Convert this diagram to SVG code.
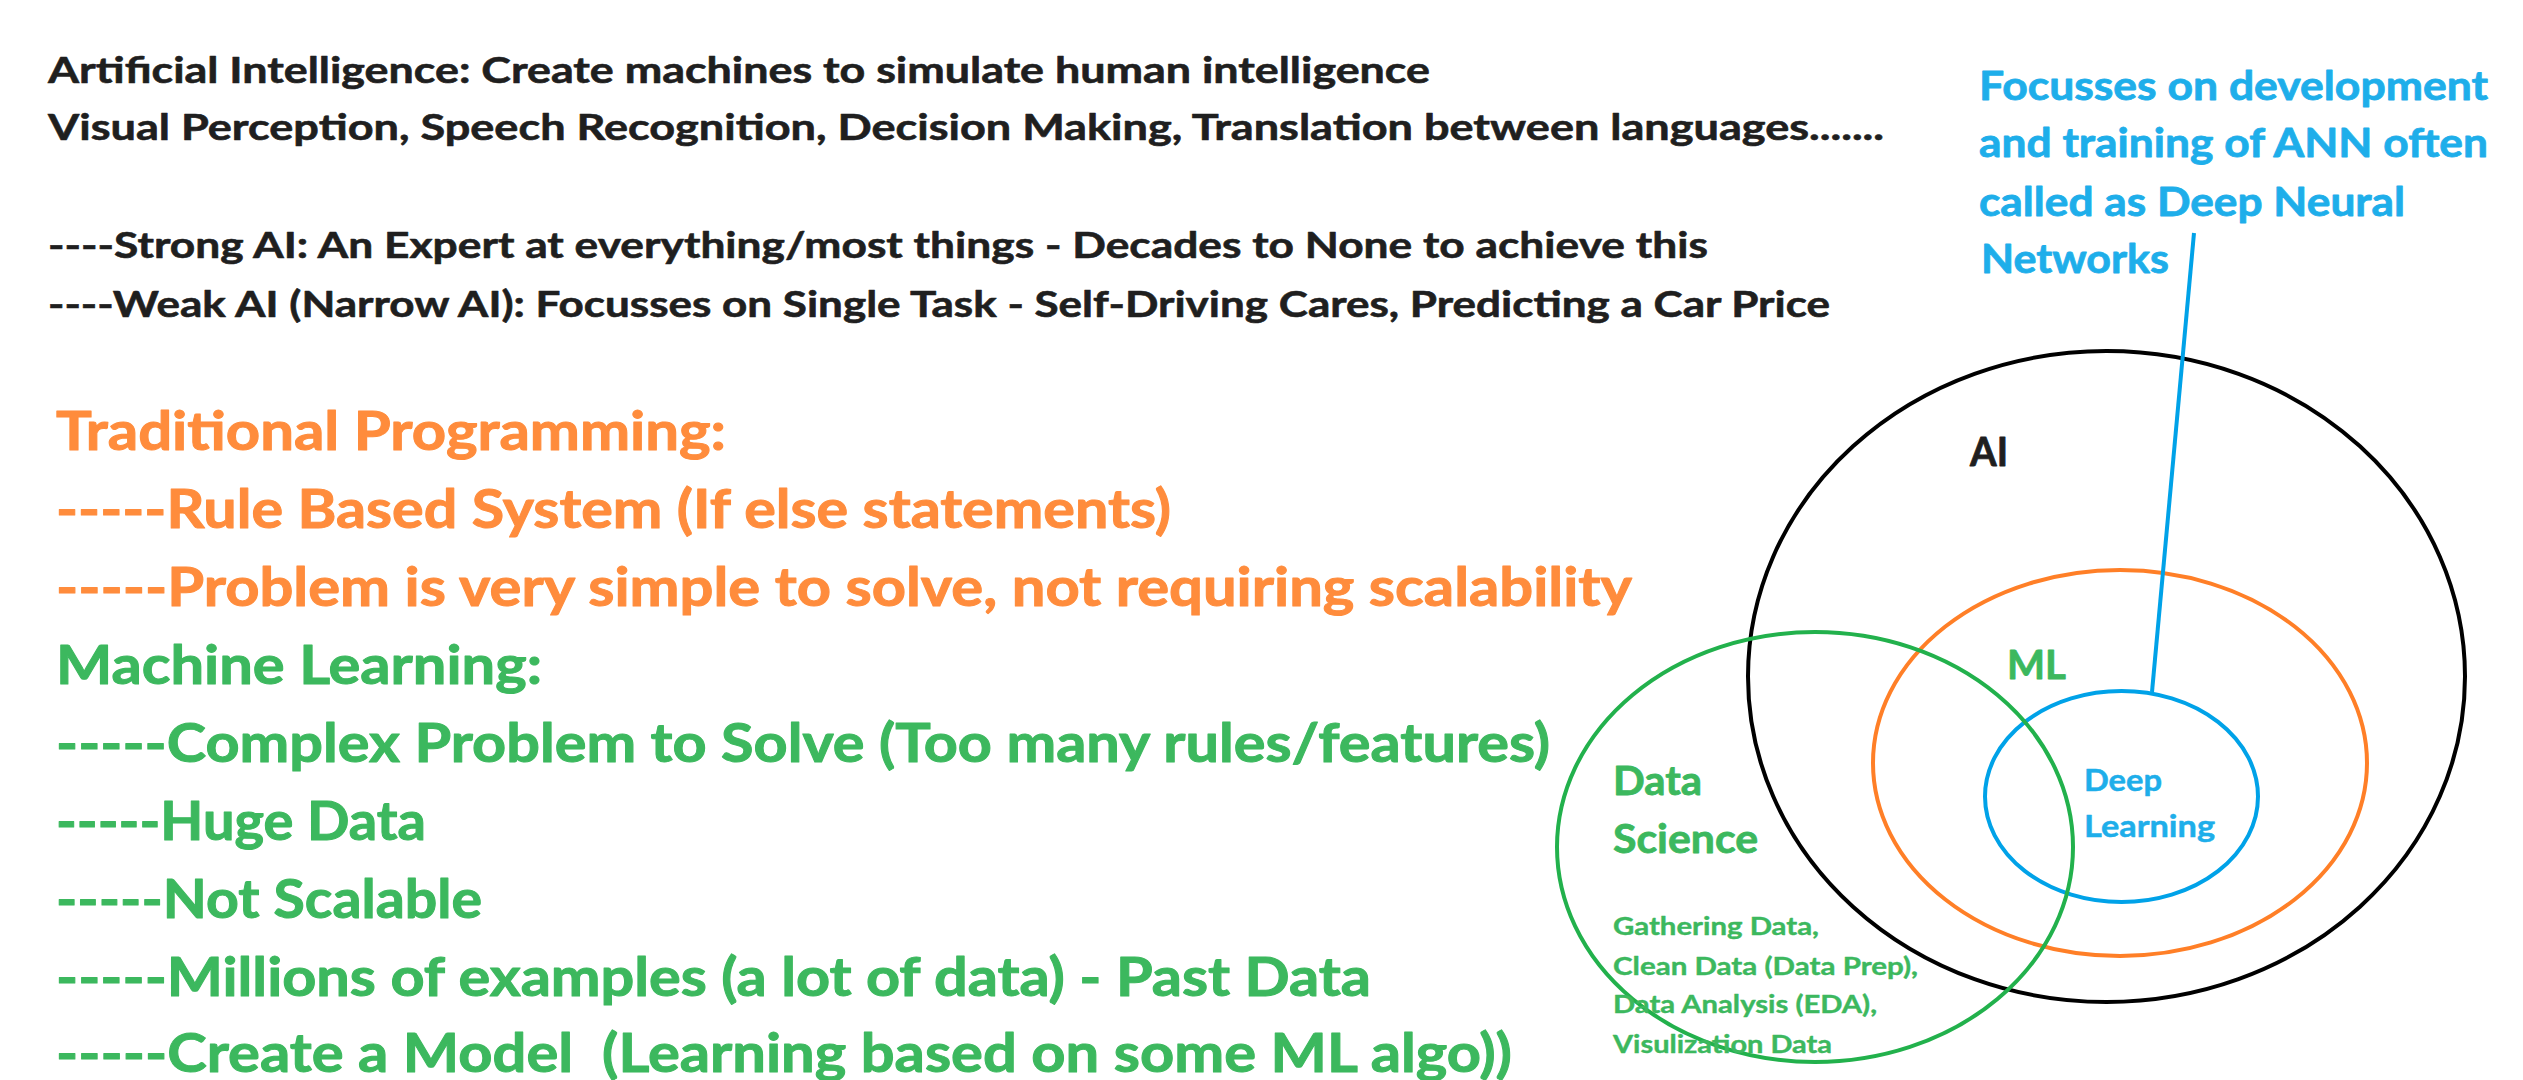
<svg xmlns="http://www.w3.org/2000/svg" width="2523" height="1080" viewBox="0 0 2523 1080">
<style>
text{font-family:Lato,"Open Sans","Liberation Sans",sans-serif;font-weight:700;stroke-linejoin:round}
.k{fill:#1f1f1f;stroke:#1f1f1f;stroke-width:0.6px;font-size:36px}
.o{fill:#FF8C3C;stroke:#FF8C3C;stroke-width:1px;font-size:54px}
.g{fill:#3CB85E;stroke:#3CB85E;stroke-width:1px;font-size:54px}
.b{fill:#1EAEEA;stroke:#1EAEEA;stroke-width:0.8px;font-size:40px}
.lbl{font-size:40px;stroke-width:0.8px}
.sm{font-size:24px;fill:#3CB85E;stroke:#3CB85E;stroke-width:0.4px}
.dl{font-size:31px;fill:#1EAEEA;stroke:#1EAEEA;stroke-width:0.5px}
.ring{fill:none;stroke-width:4}
</style>
<rect width="2523" height="1080" fill="#fff"/>
<g id="intro">
<text class="k" x="48" y="83" textLength="1382" lengthAdjust="spacingAndGlyphs">Artificial Intelligence: Create machines to simulate human intelligence</text>
<text class="k" x="48" y="140" textLength="1836" lengthAdjust="spacingAndGlyphs">Visual Perception, Speech Recognition, Decision Making, Translation between languages.......</text>
<text class="k" x="48" y="258" textLength="1660" lengthAdjust="spacingAndGlyphs">----Strong AI: An Expert at everything/most things - Decades to None to achieve this</text>
<text class="k" x="48" y="317" textLength="1782" lengthAdjust="spacingAndGlyphs">----Weak AI (Narrow AI): Focusses on Single Task - Self-Driving Cares, Predicting a Car Price</text>
</g>
<g id="traditional">
<text class="o" x="56" y="450" textLength="670" lengthAdjust="spacingAndGlyphs">Traditional Programming:</text>
<text class="o" x="56" y="528" textLength="1115" lengthAdjust="spacingAndGlyphs">-----Rule Based System (If else statements)</text>
<text class="o" x="56" y="606" textLength="1576" lengthAdjust="spacingAndGlyphs">-----Problem is very simple to solve, not requiring scalability</text>
</g>
<g id="machine-learning-text">
<text class="g" x="56" y="684" textLength="486" lengthAdjust="spacingAndGlyphs">Machine Learning:</text>
<text class="g" x="56" y="762" textLength="1494" lengthAdjust="spacingAndGlyphs">-----Complex Problem to Solve (Too many rules/features)</text>
<text class="g" x="56" y="840" textLength="370" lengthAdjust="spacingAndGlyphs">-----Huge Data</text>
<text class="g" x="56" y="918" textLength="426" lengthAdjust="spacingAndGlyphs">-----Not Scalable</text>
<text class="g" x="56" y="996" textLength="1315" lengthAdjust="spacingAndGlyphs">-----Millions of examples (a lot of data) - Past Data</text>
<text class="g" x="56" y="1072" textLength="1456" lengthAdjust="spacingAndGlyphs" xml:space="preserve">-----Create a Model  (Learning based on some ML algo))</text>
</g>
<g id="dl-note">
<text class="b" x="1979" y="100" textLength="509" lengthAdjust="spacingAndGlyphs">Focusses on development</text>
<text class="b" x="1979" y="157" textLength="509" lengthAdjust="spacingAndGlyphs">and training of ANN often</text>
<text class="b" x="1979" y="216" textLength="426" lengthAdjust="spacingAndGlyphs">called as Deep Neural</text>
<text class="b" x="1981" y="273" textLength="188" lengthAdjust="spacingAndGlyphs">Networks</text>
</g>
<g id="ai">
<ellipse class="ring" cx="2106.5" cy="676.5" rx="358.5" ry="325.5" stroke="#000"/>
<text class="lbl" x="1970" y="466" fill="#1f1f1f" stroke="#1f1f1f" textLength="38" lengthAdjust="spacingAndGlyphs">AI</text>
</g>
<g id="ml">
<ellipse class="ring" cx="2120" cy="763" rx="247" ry="193" stroke="#FF7F27"/>
<text class="lbl" x="2007" y="679" fill="#3CB85E" stroke="#3CB85E" textLength="59" lengthAdjust="spacingAndGlyphs">ML</text>
</g>
<g id="deep-learning">
<ellipse class="ring" cx="2121.5" cy="796.5" rx="136.5" ry="105.5" stroke="#00A2E8"/>
<text class="dl" x="2084" y="791" textLength="78" lengthAdjust="spacingAndGlyphs">Deep</text>
<text class="dl" x="2084" y="837" textLength="131" lengthAdjust="spacingAndGlyphs">Learning</text>
</g>
<g id="data-science">
<ellipse class="ring" cx="1815" cy="847" rx="258" ry="215" stroke="#22B14C"/>
<text class="lbl" x="1613" y="795" fill="#3CB85E" stroke="#3CB85E" textLength="89" lengthAdjust="spacingAndGlyphs">Data</text>
<text class="lbl" x="1613" y="853" fill="#3CB85E" stroke="#3CB85E" textLength="145" lengthAdjust="spacingAndGlyphs">Science</text>
<text class="sm" x="1613" y="935" textLength="206" lengthAdjust="spacingAndGlyphs">Gathering Data,</text>
<text class="sm" x="1613" y="975" textLength="305" lengthAdjust="spacingAndGlyphs">Clean Data (Data Prep),</text>
<text class="sm" x="1613" y="1013" textLength="264" lengthAdjust="spacingAndGlyphs">Data Analysis (EDA),</text>
<text class="sm" x="1613" y="1053" textLength="219" lengthAdjust="spacingAndGlyphs">Visulization Data</text>
</g>
<g id="connectors">
<line x1="2194" y1="233" x2="2152" y2="692" stroke="#00A2E8" stroke-width="4"/>
</g>
</svg>
